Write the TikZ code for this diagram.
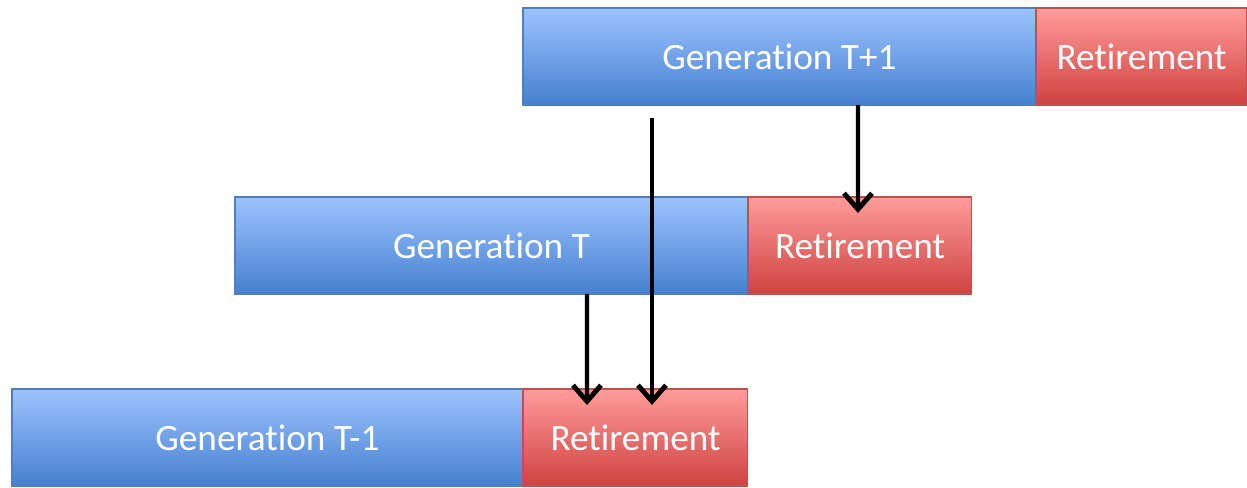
\documentclass[tikz,border=0pt]{standalone}
\usepackage{fontspec}
\setmainfont{Carlito}[Ligatures=NoCommon]
\usetikzlibrary{arrows.meta}
\definecolor{genTop}{HTML}{9DC3FF}
\definecolor{genBot}{HTML}{4580CF}
\definecolor{genLine}{HTML}{4F7FC0}
\definecolor{retTop}{HTML}{FF9C9A}
\definecolor{retBot}{HTML}{CF4240}
\definecolor{retLine}{HTML}{C0504D}
\begin{document}
\begin{tikzpicture}[x=0.02cm,y=-0.02cm,
  every node/.style={anchor=north west,inner sep=0pt,outer sep=0pt,
    minimum height=1.94cm,text=white,font=\fontsize{21.2}{25}\selectfont},
  genbox/.style={draw=genLine,line width=0.6pt,top color=genTop,bottom color=genBot},
  retbox/.style={draw=retLine,line width=0.6pt,top color=retTop,bottom color=retBot},
  arr/.style={-{Straight Barb[length=3.2mm,width=5.6mm,line width=2.8pt]},line width=2.4pt,black}]
\useasboundingbox (0,0) rectangle (1247,487);
% top row
\node[genbox,minimum width=10.26cm] (genA) at (523,8) {Generation T+1};
\node[retbox,minimum width=4.22cm] (retA) at (1036,8) {Retirement};
% middle row
\node[genbox,minimum width=10.26cm] (genB) at (235,197) {Generation T};
\node[retbox,minimum width=4.48cm] (retB) at (748,197) {Retirement};
% bottom row
\node[genbox,minimum width=10.22cm] (genC) at (12,389) {Generation T-1};
\node[retbox,minimum width=4.5cm] (retC) at (523,389) {Retirement};
% who pays whom
\draw[arr] ([xshift=2.58cm,yshift=-0.26cm]genA.south west) -- ([xshift=2.58cm,yshift=-0.32cm]retC.north west);
\draw[arr] ([xshift=6.7cm]genA.south west) -- ([xshift=2.2cm,yshift=-0.32cm]retB.north west);
\draw[arr] ([xshift=7.04cm]genB.south west) -- ([xshift=1.28cm,yshift=-0.32cm]retC.north west);
\end{tikzpicture}
\end{document}
